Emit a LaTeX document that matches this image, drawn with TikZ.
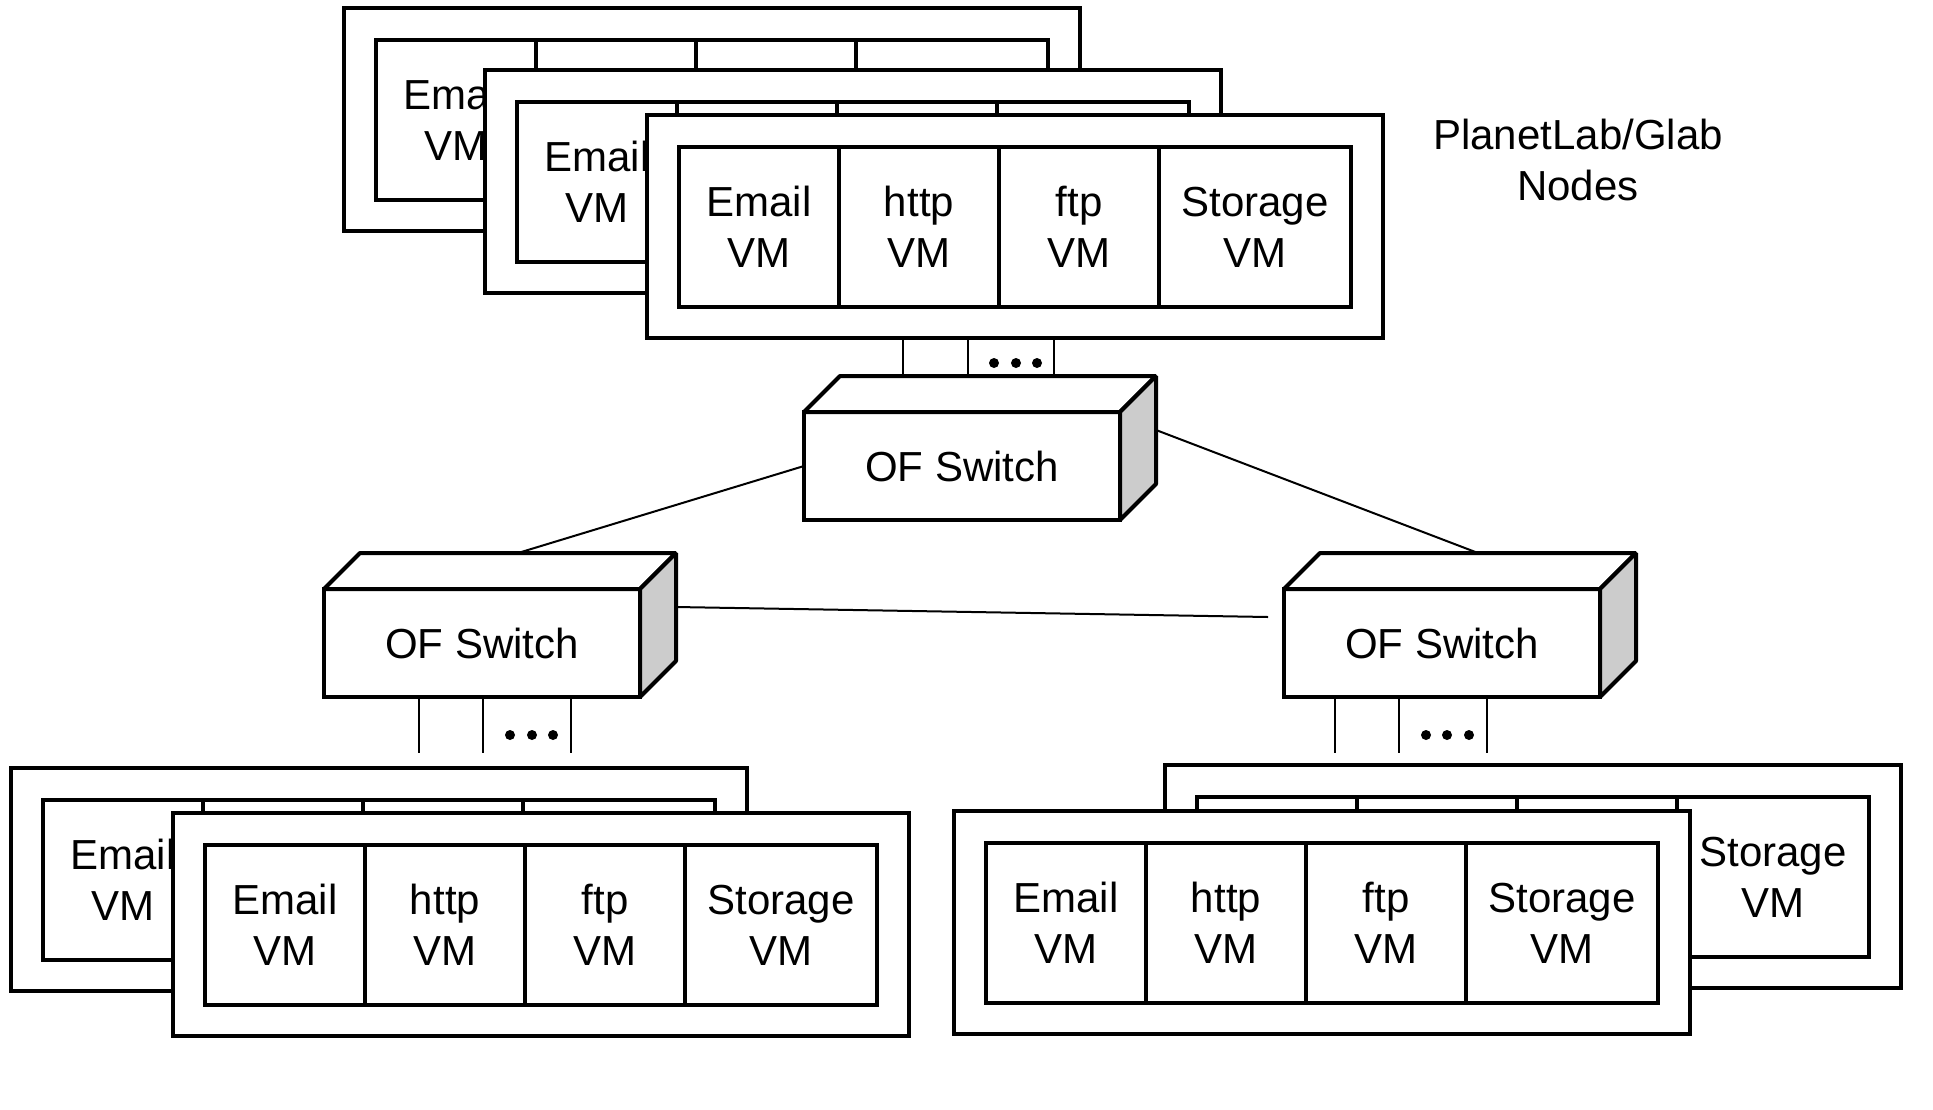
\documentclass[tikz,border=0pt]{standalone}
\usepackage{fontspec}
\setmainfont{Liberation Sans}
\usetikzlibrary{calc}

% text of all boxes and switches
\newcommand\vmfont{\fontsize{21pt}{25.8pt}\selectfont}
% two centred lines; the box baseline is the one of the last line
\newcommand\twoline[2]{\begin{tabular}[b]{@{}c@{}}#1\\#2\end{tabular}}
\newcommand\emailvm{\twoline{Email}{VM}}
\newcommand\httpvm{\twoline{http}{VM}}
\newcommand\ftpvm{\twoline{ftp}{VM}}
\newcommand\storevm{\twoline{Storage}{VM}}

\tikzset{
  outline/.style={draw=black, line width=2pt},
  hostbox/.style={outline, fill=white, rectangle, minimum width=368pt,
    minimum height=111.5pt, inner sep=0pt, outer sep=0pt},
  vmcell/.style={outline, fill=white, rectangle, minimum width=80pt,
    minimum height=80pt, inner sep=0pt, outer sep=0pt, font=\vmfont,
    text height=40.8pt, text depth=0pt},
  storecell/.style={vmcell, minimum width=96pt},
  swfront/.style={outline, fill=white, rectangle, minimum width=158pt,
    minimum height=54pt, inner sep=0pt, outer sep=0pt, font=\vmfont,
    text height=15pt, text depth=0pt},
  swface/.style={draw=black, line width=2pt, line join=bevel},
  conn/.style={draw=black, line width=1pt},
  link/.style={draw=black, line width=1.4pt},
  portdot/.style={fill=black},
}

% a physical node hosting four virtual machines;
% #2,#3 = upper left corner, #4..#7 = labels of the four VM cells
\newcommand\hostnode[7]{%
  \node[hostbox, anchor=north west] (#1) at (#2,#3) {};
  \node[vmcell, anchor=north west] (#1-email) at ({#2+32},{#3+32}) {#4};
  \node[vmcell, anchor=north west] (#1-http) at (#1-email.north east) {#5};
  \node[vmcell, anchor=north west] (#1-ftp) at (#1-http.north east) {#6};
  \node[storecell, anchor=north west] (#1-store) at (#1-ftp.north east) {#7};
}

% an OpenFlow switch drawn as a box; #2,#3 = centre of the front face
\newcommand\ofswitch[3]{%
  \node[swfront] (#1) at (#2,#3) {OF Switch};
  \coordinate (#1-back) at ($(#1.north)+(36,-36)$);
  \coordinate (#1-side) at ($(#1.east)+(36,-36)$);
  \draw[swface, fill=white] (#1.north west) -- ++(36,-36) -- ++(316,0)
    -- (#1.north east) -- cycle;
  \draw[swface, fill=black!20] (#1.north east) -- ++(36,-36) -- ++(0,108)
    -- (#1.south east) -- cycle;
}

\begin{document}
\begin{tikzpicture}[x=0.5pt, y=-0.5pt]
\useasboundingbox (0,0) rectangle (1933,1109);

% switches first, so that their anchors can be used by the links
\ofswitch{tsw}{962}{466}
\ofswitch{lsw}{482}{643}
\ofswitch{rsw}{1442}{643}
\coordinate (rsw-stub) at (1268,617);

% inter-switch connectors
\draw[conn] (tsw.west) -- (lsw-back);
\draw[conn] (tsw-side) -- (rsw-back);
\draw[conn] (lsw-side) -- (rsw-stub);

% upper stack of PlanetLab/Glab nodes
\hostnode{hA}{344}{8}{\emailvm}{}{}{}
\hostnode{hB}{485}{70}{\emailvm}{}{}{}
\hostnode{hC}{647}{115}{\emailvm}{\httpvm}{\ftpvm}{\storevm}

% lower left stack
\hostnode{hD}{11}{768}{\emailvm}{}{}{}
\hostnode{hE}{173}{813}{\emailvm}{\httpvm}{\ftpvm}{\storevm}

% lower right stack
\hostnode{hF}{1165}{765}{}{}{}{\storevm}
\hostnode{hG}{954}{811}{\emailvm}{\httpvm}{\ftpvm}{\storevm}

% links between the upper stack and its switch
\foreach \dx in {-95,-30,56}
  \draw[link] ($(tsw-back)+(\dx,0)$) coordinate (p) -- (p |- hC.south);
\foreach \dx in {-4,18,39}
  \fill[portdot] ($(tsw-back)+(\dx,-13)$) circle[radius=2.5pt];

% links below the lower switches
\foreach \dx in {-63,1,89}
  \draw[link] ($(lsw.south)+(\dx,0)$) -- ++(0,56);
\foreach \dx in {28,50,71}
  \fill[portdot] ($(lsw.south)+(\dx,38)$) circle[radius=2.5pt];
\foreach \dx in {-107,-43,45}
  \draw[link] ($(rsw.south)+(\dx,0)$) -- ++(0,56);
\foreach \dx in {-16,5,27}
  \fill[portdot] ($(rsw.south)+(\dx,38)$) circle[radius=2.5pt];

% caption of the upper stack
\node[font=\vmfont, text height=40.8pt, text depth=0pt, inner sep=0pt]
  (title) at (1578,160) {\twoline{PlanetLab/Glab}{Nodes}};
\end{tikzpicture}
\end{document}
